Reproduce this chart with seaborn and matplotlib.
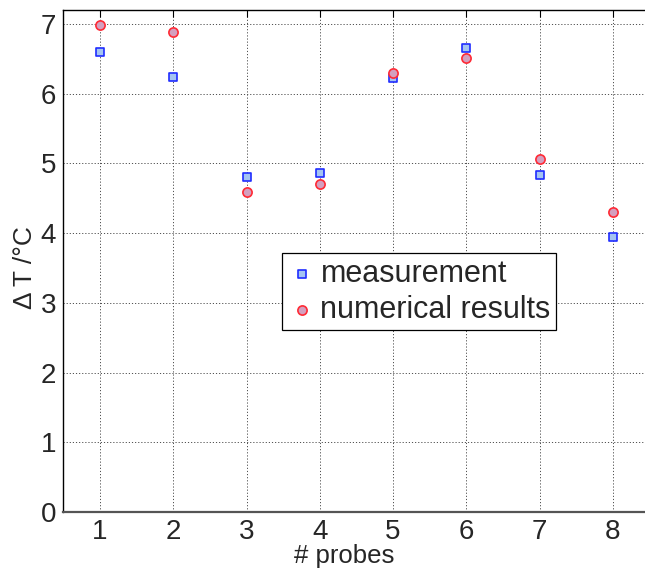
import numpy as np
import pandas as pd
import matplotlib
matplotlib.use("Agg")
import matplotlib.pyplot as plt
import seaborn as sns

# Temperature rise per probe
probes = [1, 2, 3, 4, 5, 6, 7, 8]
measurement = [6.60, 6.24, 4.80, 4.86, 6.23, 6.65, 4.83, 3.94]
numerical = [6.98, 6.88, 4.59, 4.71, 6.30, 6.51, 5.07, 4.30]
x_ticks = [1, 2, 3, 4, 5, 6, 7, 8]
y_ticks = [0, 1, 2, 3, 4, 5, 6, 7]

sns.set_style("white")
plt.rcParams["font.family"] = ["Liberation Sans", "DejaVu Sans"]

fig = plt.figure(figsize=(6.45, 5.72), dpi=100)
ax = fig.add_axes([0.0981, 0.1049, 0.9091, 0.8776])

df_meas = pd.DataFrame({"probe": probes, "dT": measurement})
df_num = pd.DataFrame({"probe": probes, "dT": numerical})

sns.scatterplot(data=df_meas, x="probe", y="dT", ax=ax, marker="s", s=36,
                color="#a4c4f2", edgecolor="#1f2cff", linewidth=1.2,
                label="measurement", zorder=3)
sns.scatterplot(data=df_num, x="probe", y="dT", ax=ax, marker="o", s=44,
                color="#d4a0bf", edgecolor="#ff2a35", linewidth=1.2,
                label="numerical results", zorder=3)

ax.set_xlim(0.5, 8.5)
ax.set_ylim(0, 7.2)
ax.set_xticks(x_ticks)
ax.set_yticks(y_ticks)
ax.tick_params(axis="both", direction="in", length=5, width=0.8, labelsize=20,
               color="black", top=True, right=False, pad=5)
ax.grid(True, linestyle=(0, (1.2, 2.0)), color="#505050", linewidth=0.7)
for side in ["left", "top", "bottom"]:
    ax.spines[side].set_color("black")
    ax.spines[side].set_linewidth(1.0)
ax.spines["right"].set_visible(False)
ax.spines["bottom"].set_color("#555555")
ax.spines["bottom"].set_linewidth(1.6)

ax.set_xlabel("# probes", fontsize=18.5)
ax.xaxis.set_label_coords(0.4795, -0.064)
ax.set_ylabel("Δ T /°C", fontsize=19, labelpad=3)
ax.yaxis.label.set_y(0.487)

leg = ax.legend(loc="upper left", bbox_to_anchor=(0.3735, 0.5153),
                borderaxespad=0, fontsize=22, frameon=True, fancybox=False,
                edgecolor="black", framealpha=1, handletextpad=0.13,
                handlelength=0.94, borderpad=0.18, labelspacing=0.2)
leg.get_frame().set_linewidth(0.9)

fig.savefig("out.png", dpi=100)
